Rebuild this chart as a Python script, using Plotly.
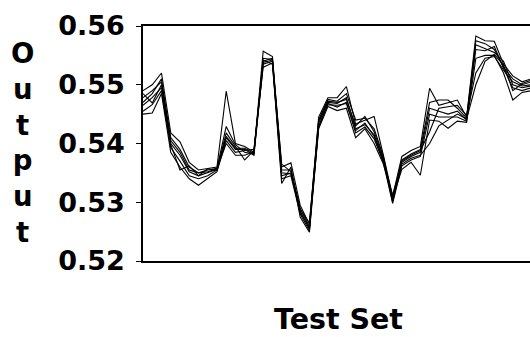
import plotly.graph_objects as go

# ---- data ----
test_index = list(range(43))

series_1 = [0.5490, 0.5500, 0.5520, 0.5418, 0.5403, 0.5368, 0.5355, 0.5358, 0.5360, 0.5489,
            0.5400, 0.5395, 0.5385, 0.5557, 0.5548, 0.5360, 0.5367, 0.5295, 0.5262, 0.5445,
            0.5478, 0.5478, 0.5497, 0.5433, 0.5440, 0.5446, 0.5380, 0.5310, 0.5378, 0.5388,
            0.5395, 0.5494, 0.5465, 0.5470, 0.5474, 0.5445, 0.5583, 0.5575, 0.5574, 0.5535,
            0.5515, 0.5505, 0.5510]
series_2 = [0.5478, 0.5490, 0.5505, 0.5410, 0.5390, 0.5360, 0.5350, 0.5355, 0.5358, 0.5429,
            0.5398, 0.5385, 0.5382, 0.5545, 0.5543, 0.5355, 0.5355, 0.5290, 0.5258, 0.5440,
            0.5475, 0.5472, 0.5485, 0.5440, 0.5443, 0.5425, 0.5378, 0.5305, 0.5372, 0.5382,
            0.5390, 0.5470, 0.5474, 0.5474, 0.5460, 0.5443, 0.5575, 0.5570, 0.5560, 0.5530,
            0.5510, 0.5500, 0.5505]
series_3 = [0.5465, 0.5478, 0.5495, 0.5400, 0.5380, 0.5352, 0.5345, 0.5350, 0.5356, 0.5418,
            0.5395, 0.5372, 0.5388, 0.5540, 0.5545, 0.5345, 0.5350, 0.5285, 0.5255, 0.5435,
            0.5470, 0.5468, 0.5478, 0.5425, 0.5432, 0.5415, 0.5372, 0.5300, 0.5368, 0.5378,
            0.5385, 0.5460, 0.5455, 0.5450, 0.5455, 0.5440, 0.5568, 0.5562, 0.5555, 0.5540,
            0.5500, 0.5495, 0.5498]
series_4 = [0.5455, 0.5466, 0.5490, 0.5393, 0.5370, 0.5345, 0.5340, 0.5345, 0.5355, 0.5410,
            0.5390, 0.5390, 0.5380, 0.5535, 0.5540, 0.5340, 0.5345, 0.5280, 0.5252, 0.5430,
            0.5468, 0.5462, 0.5470, 0.5418, 0.5428, 0.5408, 0.5368, 0.5298, 0.5362, 0.5372,
            0.5378, 0.5450, 0.5445, 0.5445, 0.5445, 0.5438, 0.5560, 0.5558, 0.5565, 0.5528,
            0.5495, 0.5490, 0.5495]
series_5 = [0.5450, 0.5452, 0.5485, 0.5385, 0.5360, 0.5340, 0.5329, 0.5340, 0.5352, 0.5405,
            0.5385, 0.5388, 0.5390, 0.5530, 0.5537, 0.5332, 0.5360, 0.5275, 0.5249, 0.5425,
            0.5463, 0.5456, 0.5460, 0.5410, 0.5425, 0.5400, 0.5365, 0.5308, 0.5356, 0.5368,
            0.5346, 0.5440, 0.5438, 0.5426, 0.5438, 0.5436, 0.5545, 0.5550, 0.5550, 0.5520,
            0.5474, 0.5487, 0.5490]
series_6 = [0.5485, 0.5469, 0.5500, 0.5405, 0.5385, 0.5355, 0.5350, 0.5352, 0.5357, 0.5400,
            0.5380, 0.5380, 0.5386, 0.5542, 0.5535, 0.5350, 0.5348, 0.5288, 0.5265, 0.5438,
            0.5472, 0.5470, 0.5475, 0.5430, 0.5446, 0.5420, 0.5375, 0.5303, 0.5370, 0.5380,
            0.5388, 0.5420, 0.5460, 0.5462, 0.5465, 0.5448, 0.5520, 0.5545, 0.5548, 0.5525,
            0.5505, 0.5498, 0.5500]
series_7 = [0.5470, 0.5485, 0.5510, 0.5398, 0.5355, 0.5362, 0.5345, 0.5357, 0.5354, 0.5412,
            0.5392, 0.5392, 0.5383, 0.5538, 0.5542, 0.5365, 0.5352, 0.5283, 0.5257, 0.5428,
            0.5466, 0.5465, 0.5468, 0.5422, 0.5435, 0.5412, 0.5370, 0.5312, 0.5365, 0.5375,
            0.5380, 0.5400, 0.5430, 0.5440, 0.5450, 0.5442, 0.5500, 0.5540, 0.5552, 0.5533,
            0.5490, 0.5502, 0.5508]

all_series = [series_1, series_2, series_3, series_4, series_5, series_6, series_7]

y_tick_values = [0.52, 0.53, 0.54, 0.55, 0.56]
y_tick_labels = ["0.52", "0.53", "0.54", "0.55", "0.56"]
y_title = "Output"
x_title = "Test Set"

# ---- figure ----
FONT = "DejaVu Sans"
fig = go.Figure()
for s in all_series:
    fig.add_trace(go.Scatter(x=test_index[:len(s)], y=s, mode="lines",
                             line=dict(color="black", width=1.1), hoverinfo="skip"))

fig.update_layout(
    width=530, height=337,
    margin=dict(l=143, r=0, t=26, b=76, pad=0),
    paper_bgcolor="white", plot_bgcolor="white",
    showlegend=False,
    xaxis=dict(range=[0, 41.86], showticklabels=False, ticks="", showgrid=False,
               zeroline=False, showline=True, linecolor="black", linewidth=1.5,
               mirror=True, fixedrange=True),
    yaxis=dict(range=[0.52, 0.56], tickvals=y_tick_values, ticktext=y_tick_labels,
               ticks="outside", ticklen=5, tickwidth=1, tickcolor="black",
               showgrid=False, zeroline=False, showline=True, linecolor="black",
               linewidth=1.5, ticklabelstandoff=6,
               tickfont=dict(family=FONT, size=27, color="black", weight="bold"),
               fixedrange=True),
)

fig.add_annotation(text="<br>".join(list(y_title)), xref="paper", yref="paper",
                   x=-0.311, y=0.506, xanchor="center", yanchor="middle",
                   showarrow=False, align="center",
                   font=dict(family=FONT, size=27.5, color="black", weight="bold"))
fig.add_annotation(text=x_title, xref="paper", yref="paper",
                   x=0.505, y=-0.249, xanchor="center", yanchor="middle",
                   showarrow=False,
                   font=dict(family=FONT, size=28.5, color="black", weight="bold"))

fig.write_html("out.html", config={"displayModeBar": False})
